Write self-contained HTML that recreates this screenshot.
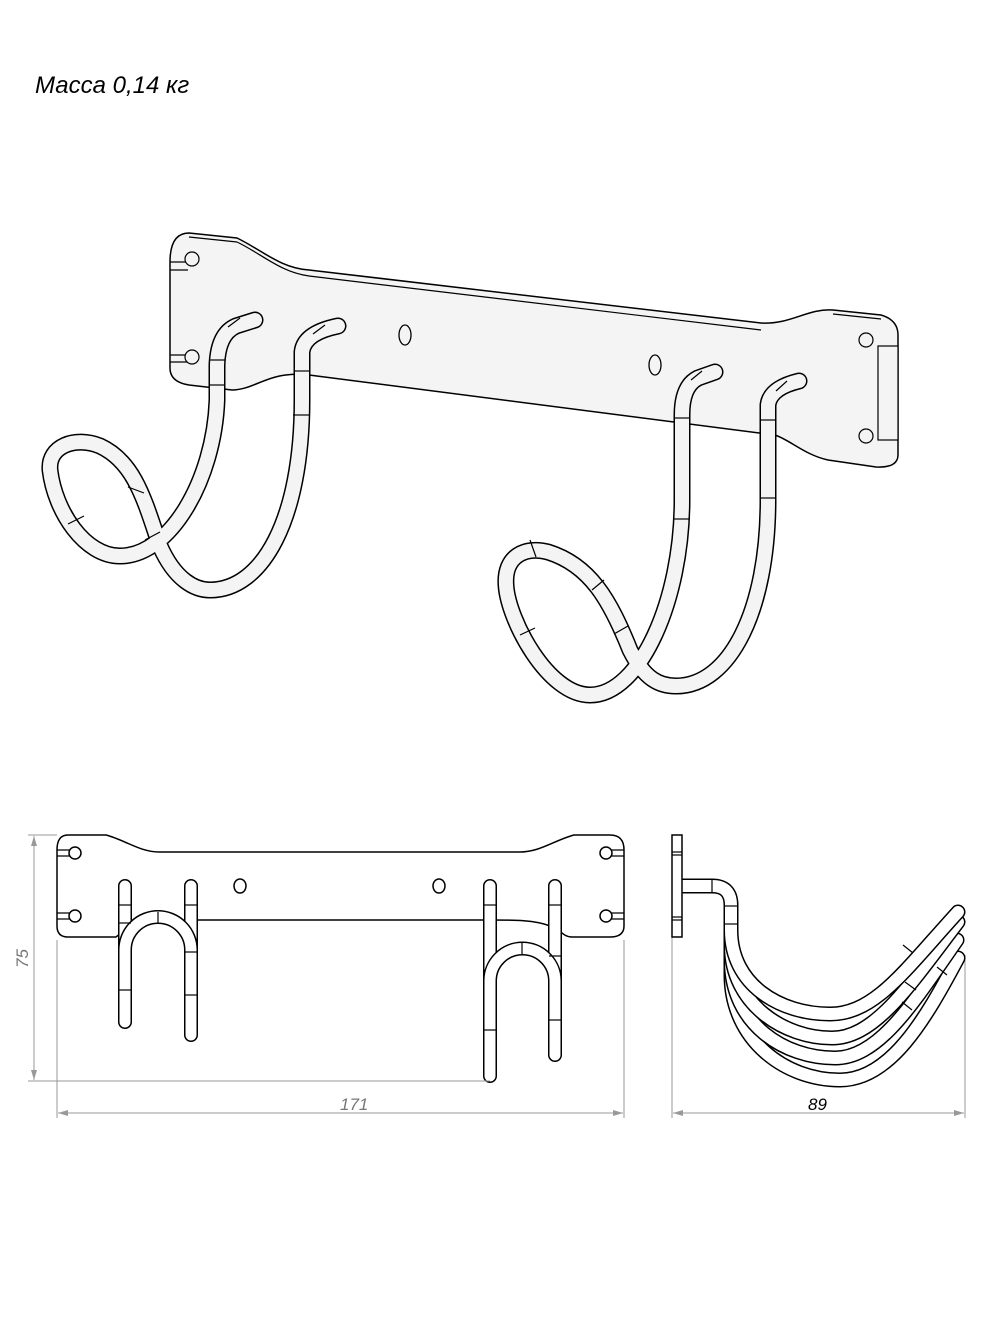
<!DOCTYPE html>
<html><head><meta charset="utf-8"><style>
html,body{margin:0;padding:0;background:#fff;}
svg{display:block;}
</style></head><body>
<svg width="990" height="1320" viewBox="0 0 990 1320" xmlns="http://www.w3.org/2000/svg">
<defs>
<marker id="ar" viewBox="0 0 10 6" refX="10" refY="3" markerWidth="10" markerHeight="6" orient="auto-start-reverse" markerUnits="userSpaceOnUse"><path d="M0,0 L10,3 L0,6 Z" fill="#999"/></marker>
</defs>
<text x="35" y="93" font-family="Liberation Sans, sans-serif" font-style="italic" font-size="24" fill="#000">Масса 0,14 кг</text>

<!-- ISO plate -->
<path d="M189,233 L237,238 C262,250 280,268 309,270 L761,323 C790,325 808,308 833,310 L881,315 Q898,320 898,335 L898,455 Q898,468 876,467 L828,460 C805,455 790,440 775,435 L309,375 C270,370 255,390 232,390 L189,385 Q170,382 170,368 L170,262 Q170,233 189,233 Z" fill="#f4f4f4" stroke="#000" stroke-width="1.5"/>
<path d="M237,242 C262,254 280,272 309,276 L761,330" fill="none" stroke="#000" stroke-width="1.2"/>
<path d="M833,314 L881,319" fill="none" stroke="#000" stroke-width="1.2"/>
<path d="M189,237 L237,242" fill="none" stroke="#000" stroke-width="1.2"/>
<path d="M170,262 L188,262 M170,270 L188,270 M170,355 L188,355 M170,362 L188,362" stroke="#000" stroke-width="1.2"/>
<circle cx="192" cy="259" r="7" fill="#f4f4f4" stroke="#000" stroke-width="1.2"/>
<circle cx="192" cy="357" r="7" fill="#f4f4f4" stroke="#000" stroke-width="1.2"/>
<circle cx="866" cy="340" r="7" fill="#f4f4f4" stroke="#000" stroke-width="1.2"/>
<circle cx="866" cy="436" r="7" fill="#f4f4f4" stroke="#000" stroke-width="1.2"/>
<rect x="878" y="346" width="20" height="94" fill="#f4f4f4" stroke="#000" stroke-width="1.2"/>
<ellipse cx="405" cy="335" rx="6" ry="10" fill="#f4f4f4" stroke="#000" stroke-width="1.3"/>
<ellipse cx="655" cy="365" rx="6" ry="10" fill="#f4f4f4" stroke="#000" stroke-width="1.3"/>

<!-- ISO hooks -->
<g fill="none" stroke-linecap="round" stroke-linejoin="round">
<path d="M255,320 L236,326 Q218,334 217,365 L217,400 C214,480 170,556 120,556 C85,556 55,512 50,470 C48,446 75,436 100,446 C135,462 145,502 160,546 C175,580 195,590 210,590 C262,590 302,520 302,400 L302,352 Q304,333 338,326" stroke="#000" stroke-width="17"/>
<path d="M255,320 L236,326 Q218,334 217,365 L217,400 C214,480 170,556 120,556 C85,556 55,512 50,470 C48,446 75,436 100,446 C135,462 145,502 160,546 C175,580 195,590 210,590 C262,590 302,520 302,400 L302,352 Q304,333 338,326" stroke="#f4f4f4" stroke-width="14"/>
<path d="M715,372 L698,378 Q682,386 682,415 L682,500 C682,600 640,695 590,695 C548,695 508,620 506,585 C504,556 525,546 548,552 C590,565 610,600 630,650 C645,680 660,686 676,686 C730,686 768,610 768,500 L768,405 Q770,388 799,381" stroke="#000" stroke-width="17"/>
<path d="M715,372 L698,378 Q682,386 682,415 L682,500 C682,600 640,695 590,695 C548,695 508,620 506,585 C504,556 525,546 548,552 C590,565 610,600 630,650 C645,680 660,686 676,686 C730,686 768,610 768,500 L768,405 Q770,388 799,381" stroke="#f4f4f4" stroke-width="14"/>
</g>
<g stroke="#000" stroke-width="1.2">
<line x1="209" y1="360" x2="225" y2="360"/><line x1="209" y1="385" x2="225" y2="385"/>
<line x1="294" y1="371" x2="310" y2="371"/><line x1="293" y1="415" x2="309" y2="415"/>
<line x1="674" y1="418" x2="690" y2="418"/><line x1="674" y1="519" x2="690" y2="519"/>
<line x1="760" y1="420" x2="776" y2="420"/><line x1="760" y1="498" x2="776" y2="498"/>
<line x1="128" y1="487" x2="144" y2="493"/><line x1="68" y1="524" x2="84" y2="516"/>
<line x1="145" y1="540" x2="160" y2="532"/>
<line x1="530" y1="540" x2="536" y2="557"/><line x1="520" y1="635" x2="535" y2="628"/>
<line x1="592" y1="590" x2="604" y2="580"/><line x1="614" y1="634" x2="628" y2="626"/>
<line x1="228" y1="327" x2="240" y2="318"/><line x1="313" y1="334" x2="325" y2="325"/>
<line x1="691" y1="380" x2="702" y2="371"/><line x1="776" y1="391" x2="787" y2="381"/>
</g>

<!-- FRONT VIEW -->
<g fill="none" stroke="#000" stroke-width="1.5">
<path d="M68,835 L106,835 C125,840 140,852 159,852 L520,852 C540,852 555,840 574,835 L610,835 Q624,835 624,850 L624,926 Q624,937 610,937 L572,937 C562,937 560,928 550,926"/>
<path d="M490,920 C515,920 535,920 550,926"/>
<path d="M68,835 Q57,835 57,850 L57,926 Q57,937 68,937 L116,937 L125,930"/>
<line x1="191" y1="920" x2="490" y2="920"/>
<path d="M57,850 L70,850 M57,856 L70,856 M57,913 L70,913 M57,919 L70,919 M624,850 L611,850 M624,856 L611,856 M624,913 L611,913 M624,919 L611,919" stroke-width="1.2"/>
<circle cx="75" cy="853" r="6"/><circle cx="75" cy="916" r="6"/>
<circle cx="606" cy="853" r="6"/><circle cx="606" cy="916" r="6"/>
<ellipse cx="240" cy="886" rx="6" ry="7"/><ellipse cx="439" cy="886" rx="6" ry="7"/>
</g>
<g fill="none" stroke-linecap="round">
<path d="M125,886 L125,1022 M191,886 L191,1035 M490,886 L490,1076 M555,886 L555,1055" stroke="#000" stroke-width="14"/>
<path d="M125,886 L125,1022 M191,886 L191,1035 M490,886 L490,1076 M555,886 L555,1055" stroke="#fff" stroke-width="11"/>
<path d="M125,955 L125,950 A33,33 0 0 1 191,950 L191,955" stroke="#000" stroke-width="14" stroke-linecap="butt"/>
<path d="M125,955 L125,950 A33,33 0 0 1 191,950 L191,955" stroke="#fff" stroke-width="11" stroke-linecap="butt"/>
<path d="M490,985 L490,981 A32.5,32.5 0 0 1 555,981 L555,985" stroke="#000" stroke-width="14" stroke-linecap="butt"/>
<path d="M490,985 L490,981 A32.5,32.5 0 0 1 555,981 L555,985" stroke="#fff" stroke-width="11" stroke-linecap="butt"/>
</g>
<g stroke="#000" stroke-width="1.2">
<line x1="119" y1="905" x2="131" y2="905"/><line x1="119" y1="923" x2="131" y2="923"/><line x1="119" y1="990" x2="131" y2="990"/>
<line x1="185" y1="905" x2="197" y2="905"/><line x1="185" y1="952" x2="197" y2="952"/><line x1="185" y1="995" x2="197" y2="995"/>
<line x1="158" y1="912" x2="158" y2="924"/><line x1="522" y1="942" x2="522" y2="954"/>
<line x1="484" y1="905" x2="496" y2="905"/><line x1="484" y1="1030" x2="496" y2="1030"/>
<line x1="549" y1="905" x2="561" y2="905"/><line x1="549" y1="956" x2="561" y2="956"/><line x1="549" y1="1020" x2="561" y2="1020"/>
</g>
<!-- dims -->
<g stroke="#999" stroke-width="1" fill="none">
<line x1="28" y1="835" x2="57" y2="835"/><line x1="28" y1="1081" x2="490" y2="1081"/>
<line x1="34" y1="836" x2="34" y2="1080" marker-start="url(#ar)" marker-end="url(#ar)"/>
<line x1="57" y1="940" x2="57" y2="1118"/><line x1="624" y1="940" x2="624" y2="1118"/>
<line x1="58" y1="1113" x2="623" y2="1113" marker-start="url(#ar)" marker-end="url(#ar)"/>
<line x1="672" y1="937" x2="672" y2="1118"/><line x1="965" y1="955" x2="965" y2="1118"/>
<line x1="673" y1="1113" x2="964" y2="1113" marker-start="url(#ar)" marker-end="url(#ar)"/>
</g>
<text x="340" y="1110" font-family="Liberation Sans, sans-serif" font-style="italic" font-size="17" fill="#777">171</text>
<text transform="translate(28,968) rotate(-90)" font-family="Liberation Sans, sans-serif" font-style="italic" font-size="17" fill="#777">75</text>
<text x="808" y="1110" font-family="Liberation Sans, sans-serif" font-style="italic" font-size="17" fill="#000">89</text>

<!-- SIDE VIEW -->
<g fill="none" stroke-linecap="round">
<path d="M731,905 L731,975 C731,1040 785,1080 840,1080 C890,1080 925,1020 958,958" stroke="#000" stroke-width="15"/>
<path d="M731,905 L731,975 C731,1040 785,1080 840,1080 C890,1080 925,1020 958,958" stroke="#fff" stroke-width="12"/>
<path d="M731,905 L731,960 C731,1025 785,1058 835,1058 C880,1058 915,1000 957,940" stroke="#000" stroke-width="15"/>
<path d="M731,905 L731,960 C731,1025 785,1058 835,1058 C880,1058 915,1000 957,940" stroke="#fff" stroke-width="12"/>
<path d="M731,905 L731,945 C731,1005 785,1038 832,1038 C875,1038 910,985 958,922" stroke="#000" stroke-width="15"/>
<path d="M731,905 L731,945 C731,1005 785,1038 832,1038 C875,1038 910,985 958,922" stroke="#fff" stroke-width="12"/>
<path d="M731,905 L731,930 C731,985 780,1014 830,1014 C875,1014 905,970 958,912" stroke="#000" stroke-width="15"/>
<path d="M731,905 L731,930 C731,985 780,1014 830,1014 C875,1014 905,970 958,912" stroke="#fff" stroke-width="12"/>
<path d="M682,886 L712,886 Q731,886 731,905 L731,915" stroke="#000" stroke-width="15" stroke-linecap="butt"/>
<path d="M682,886 L712,886 Q731,886 731,905 L731,915" stroke="#fff" stroke-width="12" stroke-linecap="butt"/>
</g>
<rect x="672" y="835" width="10" height="102" fill="#fff" stroke="#000" stroke-width="1.5"/>
<g stroke="#000" stroke-width="1.2">
<line x1="672" y1="852" x2="682" y2="852"/><line x1="672" y1="855" x2="682" y2="855"/>
<line x1="672" y1="917" x2="682" y2="917"/><line x1="672" y1="920" x2="682" y2="920"/>
<line x1="712" y1="879" x2="712" y2="893"/><line x1="724" y1="906" x2="738" y2="906"/><line x1="724" y1="924" x2="738" y2="924"/>
<line x1="903" y1="945" x2="913" y2="953"/><line x1="905" y1="982" x2="916" y2="990"/>
<line x1="902" y1="1002" x2="912" y2="1010"/><line x1="937" y1="967" x2="947" y2="975"/>
</g>
</svg>
</body></html>
